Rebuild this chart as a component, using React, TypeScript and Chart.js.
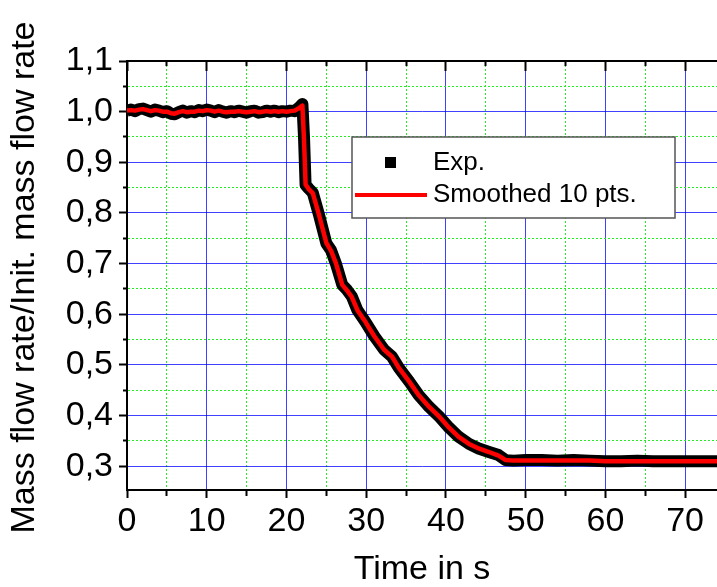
import React, { useEffect, useRef } from 'react';
import { Chart, registerables } from 'chart.js';

Chart.register(...registerables);

// ---- data ----
const times = [
  0, 0.5, 1, 1.5, 2, 2.5, 3, 3.5, 4, 4.5, 5, 5.5, 6, 6.5, 7, 7.5, 8, 8.5, 9, 9.5,
  10, 10.5, 11, 11.5, 12, 12.5, 13, 13.5, 14, 14.5, 15, 15.5, 16, 16.5, 17, 17.5, 18, 18.5, 19, 19.5,
  20, 20.5, 21, 21.5, 22, 22.2, 22.4, 22.8, 23.3, 24.1,
  25, 25.6, 26.2, 27, 27.6, 28.2, 28.9, 29.9,
  31, 32.25, 33.25, 34.1, 35.4, 36.6, 37.9, 39.1,
  40.4, 41.6, 42.9, 44.1, 45.4, 46.6, 47.5, 48.5,
  50, 52, 54, 56, 58, 60, 62, 64, 66, 68, 70, 72, 74,
];

const expValues = [
  1.002, 1.004, 1.001, 1.005, 1.006, 1.003, 1.000, 1.004, 1.002, 0.999,
  1.001, 0.996, 0.995, 0.999, 1.002, 0.998, 1.001, 0.999, 1.003, 1.001,
  1.004, 1.002, 0.999, 1.003, 1.000, 0.998, 1.001, 0.999, 1.002, 1.000,
  0.998, 1.001, 1.002, 0.998, 0.999, 1.002, 1.000, 1.002, 0.999, 1.001,
  1.000, 1.002, 1.001, 1.007, 1.015, 0.950, 0.855, 0.848, 0.840, 0.795,
  0.740, 0.726, 0.700, 0.658, 0.648, 0.635, 0.608, 0.585,
  0.557, 0.530, 0.516, 0.494, 0.467, 0.440, 0.417, 0.399,
  0.376, 0.358, 0.344, 0.335, 0.328, 0.322, 0.312, 0.311,
  0.312, 0.312, 0.311, 0.312, 0.311, 0.310, 0.310, 0.311, 0.310, 0.310, 0.310, 0.310, 0.310,
];

const smoothValues = [
  1.002, 1.003, 1.002, 1.004, 1.005, 1.003, 1.001, 1.003, 1.002, 1.000,
  1.000, 0.997, 0.996, 0.999, 1.001, 0.999, 1.000, 1.000, 1.002, 1.001,
  1.003, 1.002, 1.000, 1.002, 1.000, 0.999, 1.000, 1.000, 1.001, 1.000,
  0.999, 1.000, 1.001, 0.999, 1.000, 1.001, 1.000, 1.001, 1.000, 1.001,
  1.000, 1.001, 1.002, 1.006, 1.012, 0.945, 0.856, 0.847, 0.839, 0.795,
  0.741, 0.725, 0.701, 0.658, 0.647, 0.634, 0.608, 0.585,
  0.557, 0.530, 0.516, 0.494, 0.467, 0.440, 0.417, 0.399,
  0.376, 0.358, 0.344, 0.335, 0.328, 0.321, 0.312, 0.311,
  0.311, 0.311, 0.311, 0.311, 0.311, 0.310, 0.310, 0.310, 0.310, 0.310, 0.310, 0.310, 0.310,
];

const seriesNames = ['Exp.', 'Smoothed 10 pts.'];
const xTitle = 'Time in s';
const yTitle = 'Mass flow rate/Init. mass flow rate';
const xRange = [0, 74];
const yRange = [0.253, 1.1];
const xStep = 5;
const yStep = 0.05;

const FONT = "'Liberation Sans', Arial, sans-serif";
const MAJOR_COLOR = 'rgba(0,0,255,0.75)';
const MINOR_COLOR = '#22ee22';

const isMajorX = (v: number) => Math.round(v) % 10 === 0;
const isMajorY = (v: number) => Math.round(v * 100) % 10 === 0;

const yTitlePlugin = {
  id: 'yTitleRotated',
  afterDraw(chart: any) {
    const { ctx, chartArea } = chart;
    ctx.save();
    ctx.font = `34px ${FONT}`;
    ctx.fillStyle = '#000';
    ctx.textAlign = 'center';
    ctx.textBaseline = 'middle';
    ctx.translate(25, (chartArea.top + chartArea.bottom) / 2 + 2);
    ctx.rotate(-Math.PI / 2);
    ctx.fillText(yTitle, 0, 0);
    ctx.restore();
  },
};

const boxLegendPlugin = {
  id: 'boxLegend',
  afterDraw(chart: any) {
    const { ctx } = chart;
    const ds = chart.data.datasets;
    const bx = 352, by = 137, bw = 323, bh = 81;
    ctx.save();
    ctx.fillStyle = '#ffffff';
    ctx.fillRect(bx, by, bw, bh);
    ctx.strokeStyle = '#555555';
    ctx.lineWidth = 1.5;
    ctx.strokeRect(bx, by, bw, bh);
    ctx.fillStyle = ds[0].borderColor;
    ctx.fillRect(385, 157, 11, 11);
    ctx.strokeStyle = ds[1].borderColor;
    ctx.lineWidth = 4;
    ctx.beginPath();
    ctx.moveTo(355, 195);
    ctx.lineTo(427, 195);
    ctx.stroke();
    ctx.fillStyle = '#000';
    ctx.font = `26px ${FONT}`;
    ctx.textAlign = 'left';
    ctx.textBaseline = 'middle';
    ctx.fillText(ds[0].label, 433, 163);
    ctx.fillText(ds[1].label, 433, 195);
    ctx.restore();
  },
};

export default function App() {
  const ref = useRef<HTMLCanvasElement | null>(null);

  useEffect(() => {
    if (!ref.current) return;
    const expData = times.map((t, i) => ({ x: t, y: expValues[i] }));
    const smData = times.map((t, i) => ({ x: t, y: smoothValues[i] }));

    const chart = new Chart(ref.current, {
      type: 'line',
      data: {
        datasets: [
          {
            label: seriesNames[0],
            data: expData,
            borderColor: '#000000',
            backgroundColor: '#000000',
            borderWidth: 12,
            borderCapStyle: 'butt',
            borderJoinStyle: 'round',
            pointRadius: 0,
            tension: 0,
            order: 2,
          },
          {
            label: seriesNames[1],
            data: smData,
            borderColor: '#ff0000',
            backgroundColor: '#ff0000',
            borderWidth: 4.5,
            borderJoinStyle: 'round',
            pointRadius: 0,
            tension: 0,
            order: 1,
          },
        ],
      },
      options: {
        responsive: false,
        animation: false,
        events: [],
        layout: { padding: { top: 61, left: 0, right: 0, bottom: 0 } },
        plugins: { legend: { display: false }, tooltip: { enabled: false } },
        scales: {
          x: {
            type: 'linear',
            position: 'bottom',
            min: xRange[0],
            max: xRange[1],
            afterFit: (s: any) => { s.height = 97; },
            ticks: {
              stepSize: xStep,
              includeBounds: false,
              autoSkip: false,
              maxRotation: 0,
              minRotation: 0,
              padding: 3,
              color: '#000',
              font: { family: FONT, size: 34 },
              callback: (v: any) => (isMajorX(Number(v)) ? String(v) : ''),
            },
            grid: {
              color: (c: any) => (c.tick && !isMajorX(c.tick.value) ? MINOR_COLOR : MAJOR_COLOR),
              lineWidth: 1,
              tickLength: 8,
              tickWidth: 2,
              tickColor: '#000',
              tickBorderDash: (c: any) => (c.tick && !isMajorX(c.tick.value) ? [5, 100] : []),
            },
            border: {
              color: '#000',
              width: 2,
              dash: (c: any) => (c.tick && !isMajorX(c.tick.value) ? [2, 2] : []),
            },
            title: {
              display: true,
              text: xTitle,
              color: '#000',
              font: { family: FONT, size: 34, lineHeight: 1 },
              padding: 0,
            },
          },
          x2: {
            type: 'linear',
            position: 'top',
            min: xRange[0],
            max: xRange[1],
            afterFit: (s: any) => { s.height = 0; },
            ticks: { display: false, stepSize: xStep, includeBounds: false, autoSkip: false },
            grid: {
              drawOnChartArea: false,
              tickLength: -10,
              tickWidth: 2,
              tickColor: '#000',
              tickBorderDash: (c: any) => (c.tick && !isMajorX(c.tick.value) ? [0, 5, 6, 100] : []),
            },
            border: { color: '#000', width: 2 },
          },
          y: {
            type: 'linear',
            position: 'left',
            min: yRange[0],
            max: yRange[1],
            afterFit: (s: any) => { s.width = 127; },
            ticks: {
              stepSize: yStep,
              includeBounds: false,
              autoSkip: false,
              padding: 6,
              color: '#000',
              font: { family: FONT, size: 34 },
              callback: (v: any) => (isMajorY(Number(v)) ? Number(v).toFixed(1).replace('.', ',') : ''),
            },
            grid: {
              color: (c: any) => (c.tick && !isMajorY(c.tick.value) ? MINOR_COLOR : MAJOR_COLOR),
              lineWidth: 1,
              tickLength: 8,
              tickWidth: 2,
              tickColor: '#000',
              tickBorderDash: (c: any) => (c.tick && !isMajorY(c.tick.value) ? [0, 4, 5, 100] : []),
            },
            border: {
              color: '#000',
              width: 2,
              dash: (c: any) => (c.tick && !isMajorY(c.tick.value) ? [2, 2] : []),
            },
          },
        },
      } as any,
      plugins: [yTitlePlugin, boxLegendPlugin],
    });

    return () => chart.destroy();
  }, []);

  return (
    <div style={{ position: 'absolute', left: 0, top: 0, width: 717, height: 587, background: '#fff' }}>
      <canvas ref={ref} width={717} height={587} style={{ display: 'block' }} />
    </div>
  );
}
